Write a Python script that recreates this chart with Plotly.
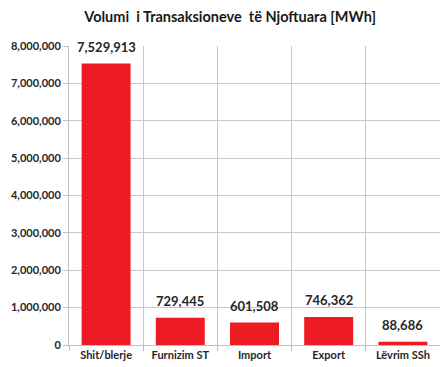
import plotly.graph_objects as go

categories = ["Shit/blerje", "Furnizim ST", "Import", "Export", "Lëvrim SSh"]
values = [7529913, 729445, 601508, 746362, 88686]
y_ticks = [0, 1000000, 2000000, 3000000, 4000000, 5000000, 6000000, 7000000, 8000000]

positions = list(range(len(categories)))
labels = [f"{v:,}" for v in values]

fig = go.Figure(
    go.Bar(
        x=positions,
        y=values,
        width=0.66,
        marker=dict(color="#ED1C24", line=dict(width=0)),
        cliponaxis=False,
    )
)

# value labels sit a little above each bar
for xp, v, lab in zip(positions, values, labels):
    fig.add_annotation(
        x=xp,
        y=v,
        text=f"<b>{lab}</b>",
        showarrow=False,
        yanchor="bottom",
        yshift=7,
        font=dict(family="Lato", size=13, color="#262626"),
    )

fig.update_layout(
    width=440,
    height=367,
    margin=dict(l=69, r=0, t=46, b=22),
    paper_bgcolor="white",
    plot_bgcolor="white",
    showlegend=False,
    title=dict(
        text="<b>Volumi\u00a0 i Transaksioneve\u00a0 të Njoftuara [MWh]</b>",
        x=0.523,
        xanchor="center",
        y=0.953,
        yanchor="middle",
        font=dict(family="Lato", size=14.5, color="#1a1a1a"),
    ),
)

fig.update_xaxes(
    range=[-0.5, len(categories) - 0.5],
    tickvals=positions,
    ticktext=categories,
    showgrid=False,
    ticks="",
    showline=True,
    linecolor="#bfbfbf",
    linewidth=1,
    tickfont=dict(family="Lato", size=11, color="#262626", weight="bold"),
    minor=dict(
        tick0=-0.5,
        dtick=1,
        showgrid=True,
        gridcolor="#c8c8c8",
        gridwidth=1,
        ticks="outside",
        ticklen=5,
        tickcolor="#bfbfbf",
    ),
    zeroline=False,
)

fig.update_yaxes(
    range=[0, 8000000],
    tickvals=y_ticks,
    tickformat=",d",
    showgrid=True,
    gridcolor="#c8c8c8",
    gridwidth=1,
    showline=True,
    linecolor="#bfbfbf",
    linewidth=1,
    ticks="outside",
    ticklen=5,
    tickcolor="#bfbfbf",
    tickfont=dict(family="Lato", size=11, color="#262626", weight="bold"),
    zeroline=False,
)

fig.write_html("out.html")
